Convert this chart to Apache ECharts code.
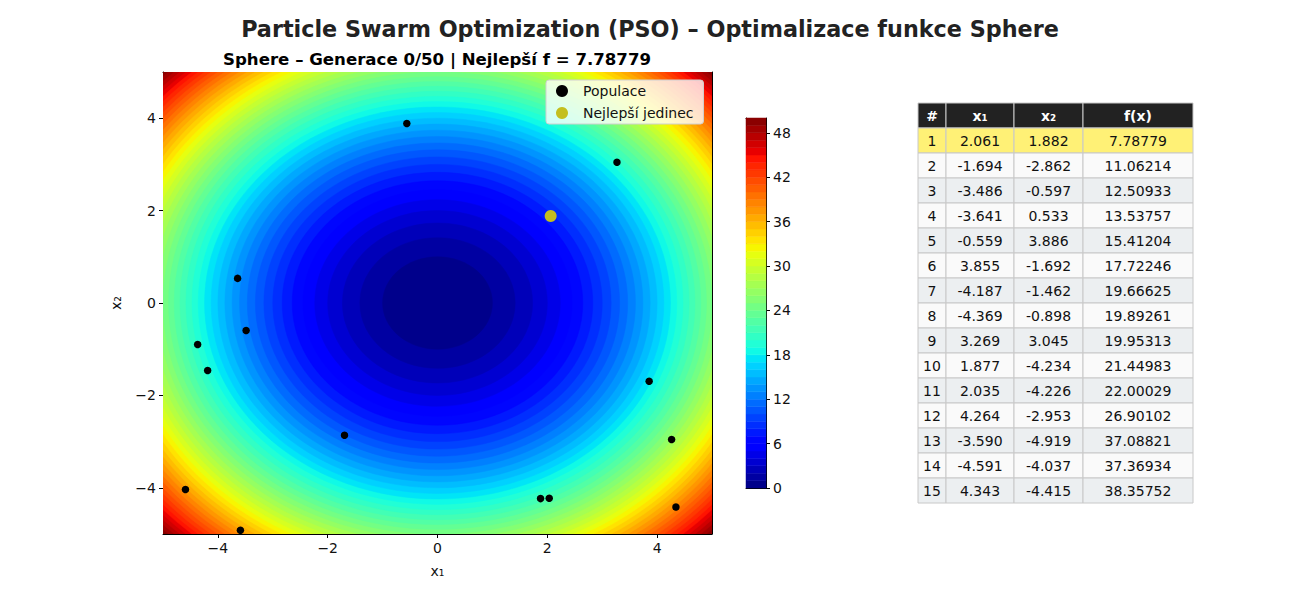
<!DOCTYPE html>
<html>
<head>
<meta charset="utf-8">
<script src="https://cdn.jsdelivr.net/npm/echarts@6/dist/echarts.min.js"></script>
<style>
html,body{margin:0;padding:0;background:#fff;}
#chart{width:1300px;height:600px;}
</style>
</head>
<body>
<div id="chart"></div>
<script>
// ---- data ----
const mainTitle = 'Particle Swarm Optimization (PSO) – Optimalizace funkce Sphere';
const subTitle = 'Sphere – Generace 0/50 | Nejlepší f = 7.78779';
const contourLevels = [0,1,2,3,4,5,6,7,8,9,10,11,12,13,14,15,16,17,18,19,20,21,22,23,24,25,26,27,28,29,30,31,32,33,34,35,36,37,38,39,40,41,42,43,44,45,46,47,48,49,50];
const axisTicks = [-4,-2,0,2,4];
const colorbarTicks = [0,6,12,18,24,30,36,42,48];
const rank = [1,2,3,4,5,6,7,8,9,10,11,12,13,14,15];
const x1 = [2.061,-1.694,-3.486,-3.641,-0.559,3.855,-4.187,-4.369,3.269,1.877,2.035,4.264,-3.590,-4.591,4.343];
const x2 = [1.882,-2.862,-0.597,0.533,3.886,-1.692,-1.462,-0.898,3.045,-4.234,-4.226,-2.953,-4.919,-4.037,-4.415];
const fx = [7.78779,11.06214,12.50933,13.53757,15.41204,17.72246,19.66625,19.89261,19.95313,21.44983,22.00029,26.90102,37.08821,37.36934,38.35752];
const tableHeader = ['#','x₁','x₂','f(x)'];

// ---- jet colormap ----
function interp(t, pts){
  for(let i=1;i<pts.length;i++){
    if(t<=pts[i][0]){
      const a=pts[i-1], b=pts[i];
      return a[1]+(b[1]-a[1])*(t-a[0])/(b[0]-a[0]);
    }
  }
  return pts[pts.length-1][1];
}
function jet(t){
  t=Math.max(0,Math.min(1,t));
  const r=interp(t,[[0,0],[0.35,0],[0.66,1],[0.89,1],[1,0.5]]);
  const g=interp(t,[[0,0],[0.125,0],[0.375,1],[0.64,1],[0.91,0],[1,0]]);
  const b=interp(t,[[0,0.5],[0.11,1],[0.34,1],[0.65,0],[1,0]]);
  return 'rgb('+Math.round(r*255)+','+Math.round(g*255)+','+Math.round(b*255)+')';
}
const vmin = contourLevels[0], vmax = contourLevels[contourLevels.length-1];
function bandColor(lo,up){ return jet(((lo+up)/2 - vmin)/(vmax-vmin)); }

const bands = [];
for(let i=0;i<contourLevels.length-1;i++) bands.push([contourLevels[i], contourLevels[i+1]]);
const bandsDesc = bands.slice().reverse();

const FONT = 'DejaVu Sans';
const minus = v => (v<0 ? '\u2212'+Math.abs(v) : String(v));

// ---- table graphic ----
const tblLeft = 918, tblTop = 103, rowH = 25;
const colW = [28, 68, 69, 110];
const tableEls = [];
const nRows = rank.length + 1;
for(let r=0;r<nRows;r++){
  let cx = tblLeft;
  for(let c=0;c<4;c++){
    let fill, txt, color='#111', weight='normal';
    if(r===0){ fill='#222222'; txt=tableHeader[c]; color='#fff'; weight='bold'; }
    else {
      const i=r-1;
      fill = (r===1) ? '#fff176' : (r%2===0 ? '#fafafa' : '#eceff1');
      txt = c===0 ? String(rank[i]) : c===1 ? x1[i].toFixed(3) : c===2 ? x2[i].toFixed(3) : fx[i].toFixed(5);
    }
    tableEls.push({type:'rect', shape:{x:cx, y:tblTop+r*rowH, width:colW[c], height:rowH},
      style:{fill:fill, stroke:'#c8c8c8', lineWidth:1}, z:10});
    tableEls.push({type:'text', z:11, style:{text:txt, x:cx+colW[c]/2, y:tblTop+r*rowH+rowH/2+0.5,
      align:'center', verticalAlign:'middle', fill:color, font:weight+' 14px "'+FONT+'"'}});
    cx += colW[c];
  }
}

const chart = echarts.init(document.getElementById('chart'), null, {renderer:'svg'});

const frameAxis = (grid, pos, min, max) => ({
  gridIndex:grid, type:'value', position:pos, min:min, max:max,
  axisLine:{show:true, onZero:false, lineStyle:{color:'#000', width:1}},
  axisTick:{show:false}, axisLabel:{show:false}, splitLine:{show:false}
});

const option = {
  animation:false,
  backgroundColor:'#fff',
  textStyle:{fontFamily:FONT},
  graphic:[
    {type:'text', style:{text:mainTitle, x:650, y:29, align:'center', verticalAlign:'middle',
      fill:'#222', font:'bold 22.3px "'+FONT+'"'}},
    {type:'text', style:{text:subTitle, x:437, y:59, align:'center', verticalAlign:'middle',
      fill:'#000', font:'bold 16.6px "'+FONT+'"'}},
    ...tableEls
  ],
  legend:{
    left:546, top:80, orient:'vertical',
    backgroundColor:'rgba(255,255,255,0.8)', borderColor:'#d0d0d0', borderWidth:1, borderRadius:3,
    padding:[4,10,4,10], itemGap:8, itemWidth:12, itemHeight:12,
    textStyle:{fontFamily:FONT, fontSize:14, color:'#111', padding:[0,0,0,10]},
    data:[{name:'Populace', icon:'circle'}, {name:'Nejlepší jedinec', icon:'circle'}]
  },
  grid:[
    {left:163, top:72, width:549, height:462},
    {left:746, top:118, width:20, height:370}
  ],
  xAxis:[
    {gridIndex:0, type:'value', min:-5, max:5, position:'bottom',
      axisLine:{show:true, onZero:false, lineStyle:{color:'#000'}},
      axisTick:{show:true, length:4, customValues:axisTicks, lineStyle:{color:'#000'}},
      axisLabel:{customValues:axisTicks, formatter:minus, fontSize:14, color:'#111', margin:7, fontFamily:FONT},
      splitLine:{show:false},
      name:'x₁', nameLocation:'middle', nameGap:30, nameTextStyle:{fontSize:14, color:'#111', fontFamily:FONT}},
    frameAxis(0,'top',-5,5),
    frameAxis(1,'bottom',0,1),
    frameAxis(1,'top',0,1)
  ],
  yAxis:[
    {gridIndex:0, type:'value', min:-5, max:5, position:'left',
      axisLine:{show:true, onZero:false, lineStyle:{color:'#000'}},
      axisTick:{show:true, length:4, customValues:axisTicks, lineStyle:{color:'#000'}},
      axisLabel:{customValues:axisTicks, formatter:minus, fontSize:14, color:'#111', margin:7, fontFamily:FONT},
      splitLine:{show:false},
      name:'x₂', nameLocation:'middle', nameGap:40, nameTextStyle:{fontSize:14, color:'#111', fontFamily:FONT}},
    frameAxis(0,'right',-5,5),
    {gridIndex:1, type:'value', min:vmin, max:vmax, position:'right',
      axisLine:{show:true, onZero:false, lineStyle:{color:'#000'}},
      axisTick:{show:true, length:4, customValues:colorbarTicks, lineStyle:{color:'#000'}},
      axisLabel:{customValues:colorbarTicks, fontSize:14, color:'#111', margin:7, fontFamily:FONT},
      splitLine:{show:false}},
    frameAxis(1,'left',vmin,vmax)
  ],
  series:[
    {type:'custom', name:'contour', xAxisIndex:0, yAxisIndex:0, clip:true, silent:true, z:1,
      data:bandsDesc,
      renderItem:function(params, api){
        const lo=api.value(0), up=api.value(1);
        const c=api.coord([0,0]);
        const r=Math.sqrt(up)*(up===vmax?1.05:1);
        const s=api.size([r,r]);
        return {type:'ellipse', shape:{cx:c[0], cy:c[1], rx:s[0], ry:s[1]},
          style:{fill:bandColor(lo,up), stroke:bandColor(lo,up), lineWidth:0.5}};
      }},
    {type:'custom', name:'colorbar', xAxisIndex:2, yAxisIndex:2, silent:true, z:1,
      data:bands,
      renderItem:function(params, api){
        const lo=api.value(0), up=api.value(1);
        const p0=api.coord([0,up]), p1=api.coord([1,lo]);
        return {type:'rect', shape:{x:p0[0], y:p0[1], width:p1[0]-p0[0], height:p1[1]-p0[1]},
          style:{fill:bandColor(lo,up), stroke:bandColor(lo,up), lineWidth:0.5}};
      }},
    {type:'scatter', name:'Populace', xAxisIndex:0, yAxisIndex:0, z:5,
      symbol:'circle', symbolSize:7.5, itemStyle:{color:'#000', opacity:1},
      data:x1.map((v,i)=>[v, x2[i]])},
    {type:'scatter', name:'Nejlepší jedinec', xAxisIndex:0, yAxisIndex:0, z:6,
      symbol:'circle', symbolSize:12, itemStyle:{color:'#c4bf1e', opacity:1},
      data:[[x1[0], x2[0]]]}
  ]
};
chart.setOption(option);
</script>
</body>
</html>
